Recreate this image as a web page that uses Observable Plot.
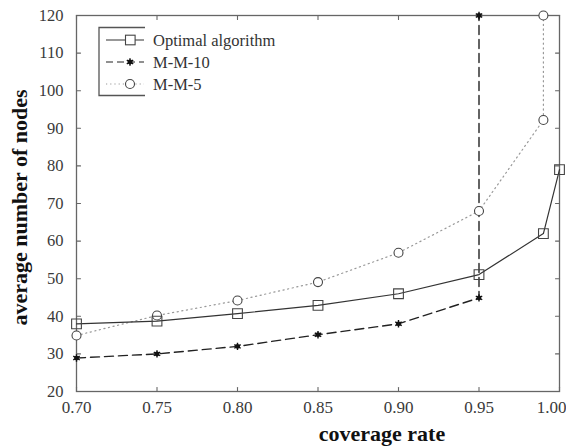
<!DOCTYPE html>
<html>
<head>
<meta charset="utf-8">
<script src="https://cdn.jsdelivr.net/npm/d3@7"></script>
<script src="https://cdn.jsdelivr.net/npm/@observablehq/plot@0.6"></script>
<style>
  html, body { margin: 0; padding: 0; background: #fff; }
  #chart { width: 566px; height: 447px; }
  #chart svg text { font-family: 'Liberation Serif', 'DejaVu Serif', serif !important; }
</style>
</head>
<body>
<div id="chart"></div>
<script>
// ---- data ----
const xTicks = [0.70, 0.75, 0.80, 0.85, 0.90, 0.95, 1.00];
const yTicks = [20, 30, 40, 50, 60, 70, 80, 90, 100, 110, 120];

const optimalX = [0.70, 0.75, 0.80, 0.85, 0.90, 0.95, 0.99, 1.00];
const optimalY = [38, 38.7, 40.7, 42.9, 46, 51.1, 62, 79];

const mm10X = [0.70, 0.75, 0.80, 0.85, 0.90, 0.95, 0.95];
const mm10Y = [28.9, 30, 32, 35.1, 38, 44.9, 120];

const mm5X = [0.70, 0.75, 0.80, 0.85, 0.90, 0.95, 0.99, 0.99];
const mm5Y = [34.9, 40.2, 44.2, 49.1, 56.9, 68, 92.2, 120];

const seriesNames = ["Optimal algorithm", "M-M-10", "M-M-5"];
const xLabel = "coverage rate";
const yLabel = "average number of nodes";

const toRows = (xs, ys) => xs.map((x, i) => ({x, y: ys[i]}));
const optimal = toRows(optimalX, optimalY);
const mm10 = toRows(mm10X, mm10Y);
const mm5 = toRows(mm5X, mm5Y);

const font = "'Liberation Serif', 'DejaVu Serif', serif";
const axisColor = "#666";
const tickShape = {draw(context, l) { context.moveTo(0, 0); context.lineTo(0, -l); }};
const tickOpts = {length: 4, anchor: "start", shape: tickShape, stroke: axisColor, strokeWidth: 1.1};

const plot = Plot.plot({
  width: 566,
  height: 447,
  marginLeft: 76,
  marginRight: 7,
  marginTop: 15,
  marginBottom: 56,
  style: {background: "#fff", overflow: "visible"},
  x: {domain: [0.70, 1.00]},
  y: {domain: [20, 120]},
  marks: [
    Plot.frame({stroke: axisColor, strokeWidth: 1.3}),
    // tick labels
    Plot.axisX({ticks: xTicks.slice(0, -1), tickFormat: d3.format(".2f"), tickSize: 0, tickPadding: 9, label: null, fontSize: 17, fill: "#3a3a3a"}),
    Plot.axisX({ticks: xTicks.slice(-1), tickFormat: d3.format(".2f"), tickSize: 0, tickPadding: 9, dx: -8, label: null, fontSize: 17, fill: "#3a3a3a"}),
    Plot.axisY({ticks: yTicks, tickSize: 0, tickPadding: 13, label: null, fontSize: 16.5, fill: "#3a3a3a"}),
    // inward ticks on all four sides
    Plot.vector(xTicks, {x: d => d, frameAnchor: "bottom", rotate: 0, ...tickOpts}),
    Plot.vector(xTicks, {x: d => d, frameAnchor: "top", rotate: 180, ...tickOpts}),
    Plot.vector(yTicks, {y: d => d, frameAnchor: "left", rotate: 90, ...tickOpts}),
    Plot.vector(yTicks, {y: d => d, frameAnchor: "right", rotate: -90, ...tickOpts}),
    // M-M-5 dotted
    Plot.line(mm5, {x: "x", y: "y", stroke: "#999", strokeWidth: 1.2, strokeDasharray: "1.2,3.5"}),
    // M-M-10 dashed
    Plot.line(mm10, {x: "x", y: "y", stroke: "#222", strokeWidth: 1.4, strokeDasharray: "9,5"}),
    // optimal solid
    Plot.line(optimal, {x: "x", y: "y", stroke: "#333", strokeWidth: 1.2}),
    Plot.dot(mm5, {x: "x", y: "y", r: 4.5, stroke: "#444", fill: "white", strokeWidth: 1.1}),
    Plot.dot(optimal, {x: "x", y: "y", symbol: "square", r: 5.5, stroke: "#444", fill: "none", strokeWidth: 1.1}),
    Plot.dot(mm10, {x: "x", y: "y", symbol: "asterisk", r: 3.5, stroke: "#111", strokeWidth: 1.4}),
    Plot.dot(mm10, {x: "x", y: "y", r: 2.4, fill: "#111"}),
    Plot.text([xLabel], {frameAnchor: "bottom", dy: 49, dx: 64, textAnchor: "middle", text: d => d, fontSize: 22, fontWeight: "bold", fill: "#111"}),
    Plot.text([yLabel], {frameAnchor: "left", dx: -57, dy: 4, rotate: -90, textAnchor: "middle", text: d => d, fontSize: 22, fontWeight: "bold", fill: "#111"})
  ]
});

document.getElementById("chart").appendChild(plot);

// ---- legend (drawn inside the plot svg) ----
const svg = d3.select(plot);
const lg = svg.append("g").attr("font-family", font).attr("font-size", 16.5).attr("fill", "#333").attr("text-anchor", "start");
lg.append("path").attr("d", "M145,27.5H99V95.5H145").attr("fill", "none").attr("stroke", "#555").attr("stroke-width", 1.3);
const rows = [40, 62, 84];
const dashes = [null, "7,4", "1.2,3"];
const strokes = ["#333", "#222", "#999"];
seriesNames.forEach((name, i) => {
  const y = rows[i];
  lg.append("line").attr("x1", 106).attr("x2", 144).attr("y1", y).attr("y2", y)
    .attr("stroke", strokes[i]).attr("stroke-width", 1.2).attr("stroke-dasharray", dashes[i]);
  if (i === 0) {
    lg.append("rect").attr("x", 125.5).attr("y", y - 4.8).attr("width", 9.6).attr("height", 9.6)
      .attr("fill", "white").attr("stroke", "#444").attr("stroke-width", 1.1);
  } else if (i === 1) {
    lg.append("path").attr("d", d3.symbol(d3.symbolAsterisk, 38)()).attr("transform", `translate(130,${y})`)
      .attr("stroke", "#111").attr("stroke-width", 1.4).attr("fill", "none");
    lg.append("circle").attr("cx", 130).attr("cy", y).attr("r", 2.4).attr("fill", "#111");
  } else {
    lg.append("circle").attr("cx", 130).attr("cy", y).attr("r", 4.5).attr("fill", "white")
      .attr("stroke", "#444").attr("stroke-width", 1.1);
  }
  lg.append("text").attr("x", 153).attr("y", y).attr("dy", "0.35em").text(name);
});
</script>
</body>
</html>
